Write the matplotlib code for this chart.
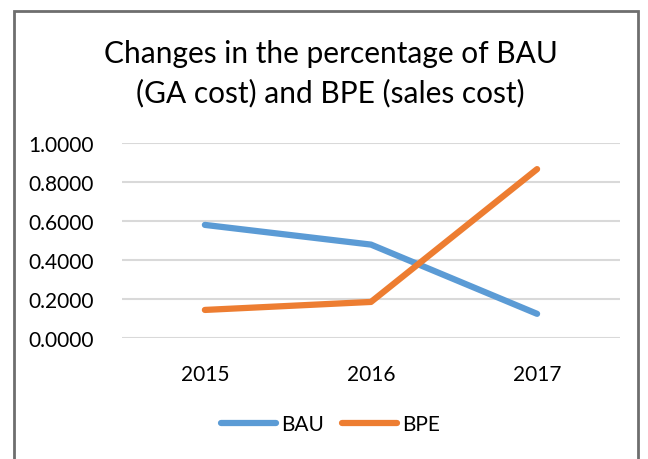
import matplotlib.pyplot as plt
from matplotlib.patches import Rectangle

years = ["2015", "2016", "2017"]
bau = [0.580, 0.479, 0.124]
bpe = [0.144, 0.185, 0.866]
y_ticks = [0.0, 0.2, 0.4, 0.6, 0.8, 1.0]

plt.rcParams["font.family"] = ["Lato", "DejaVu Sans"]

fig = plt.figure(figsize=(6.48, 4.6), dpi=100)
ax = fig.add_axes([0.188, 0.263, 0.769, 0.424])

x = range(len(years))
ax.plot(x, bau, color="#5B9BD5", linewidth=4.5, solid_capstyle="round", label="BAU")
ax.plot(x, bpe, color="#ED7D31", linewidth=4.5, solid_capstyle="round", label="BPE")

ax.set_xlim(-0.5, len(years) - 0.5)
ax.set_ylim(0, 1.0)
ax.set_yticks(y_ticks)
ax.set_yticklabels([f"{v:.4f}" for v in y_ticks])
ax.set_xticks(list(x))
ax.set_xticklabels(years)
ax.tick_params(length=0, labelsize=15, colors="#000000")
ax.tick_params(axis="y", pad=20)
ax.tick_params(axis="x", pad=19)
ax.grid(axis="y", color="#D9D9D9", linewidth=1.5)
ax.set_axisbelow(True)
for s in ax.spines.values():
    s.set_visible(False)

fig.text(0.51, 0.84, "Changes in the percentage of BAU\n(GA cost) and BPE (sales cost)",
         ha="center", va="center", fontsize=21.5, linespacing=1.45)

fig.legend(loc="center", bbox_to_anchor=(0.51, 0.075), ncol=2, frameon=False,
           fontsize=15, handlelength=2.6, columnspacing=0.9, handletextpad=0.25)

fig.patches.append(Rectangle((0.021, -0.02), 0.963, 0.994, transform=fig.transFigure,
                             fill=False, edgecolor="#6E6E6E", linewidth=2))

fig.savefig("out.png", dpi=100)
